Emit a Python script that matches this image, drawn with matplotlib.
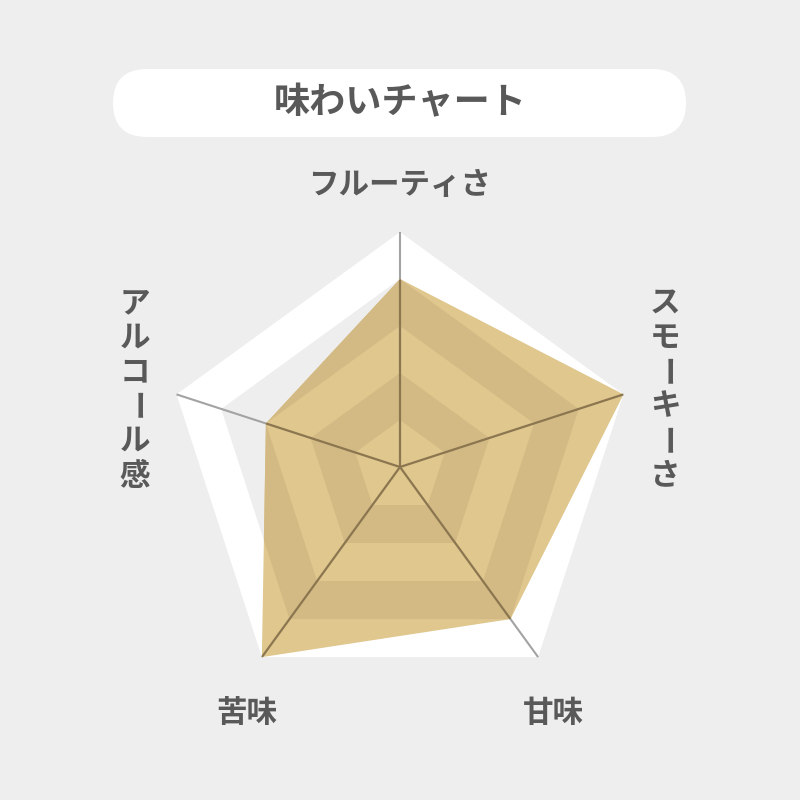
import numpy as np
import matplotlib
matplotlib.use("Agg")
import matplotlib.pyplot as plt
from matplotlib.patches import Polygon, FancyBboxPatch

plt.rcParams['font.family'] = ['Noto Sans CJK JP', 'DejaVu Sans']

title = "味わいチャート"
labels = ["フルーティさ", "スモーキーさ", "甘味", "苦味", "アルコール感"]
values = [4, 5, 4, 5, 3]
max_level = 5

BG = "#eeeeee"
TXT = "#595959"
GOLD_LIGHT = "#dfc78e"
GOLD_DARK = "#d3ba84"

# pixel layout helpers (origin top-left, 47 px per level unit)
SCALE = 47.0
CX, CY = 400, 467


def px(x, y):
    return (x - CX) / SCALE, (CY - y) / SCALE


n = len(labels)
angles = np.deg2rad(90 - 72 * np.arange(n))


def pentagon(r):
    r = np.broadcast_to(np.asarray(r, dtype=float), (n,))
    return np.column_stack([r * np.cos(angles), r * np.sin(angles)])


fig = plt.figure(figsize=(8, 8), dpi=100, facecolor=BG)
ax = fig.add_axes([0, 0, 1, 1])
ax.set_facecolor(BG)
ax.set_xlim(-CX / SCALE, (800 - CX) / SCALE)
ax.set_ylim(-(800 - CY) / SCALE, CY / SCALE)
ax.set_aspect("equal")
ax.axis("off")

# background rings
for k in range(max_level, 0, -1):
    col = "white" if k % 2 == 1 else BG
    ax.add_patch(Polygon(pentagon(k), closed=True, fc=col, ec="none", zorder=1))

# spokes
for a in angles:
    ax.plot([0, max_level * np.cos(a)], [0, max_level * np.sin(a)],
            color="#a3a3a3", lw=1.5, zorder=2, solid_capstyle="butt")

# data polygon
data_poly = Polygon(pentagon(values), closed=True, fc=GOLD_LIGHT, ec="none", zorder=3)
ax.add_patch(data_poly)

# stripes inside the data
for k in range(max_level - 1, 0, -1):
    col = GOLD_DARK if k % 2 == 0 else GOLD_LIGHT
    p = Polygon(pentagon(k), closed=True, fc=col, ec="none", zorder=4)
    ax.add_patch(p)
    p.set_clip_path(data_poly)

for a in angles:
    ln, = ax.plot([0, max_level * np.cos(a)], [0, max_level * np.sin(a)],
                  color="#8c7650", lw=1.6, zorder=5, solid_capstyle="butt")
    ln.set_clip_path(data_poly)

# title pill
x0, y0 = px(113, 137)
x1, y1 = px(686, 69)
ax.add_patch(FancyBboxPatch((x0, y0), x1 - x0, y1 - y0,
                            boxstyle="round,pad=0,rounding_size=%f" % (34 / SCALE),
                            fc="white", ec="none", zorder=6))
ax.text(*px(400, 103), title, fontsize=26, fontweight="bold", color=TXT,
        ha="center", va="center", zorder=7)

# horizontal labels
fs = 22
ax.text(*px(400, 185), labels[0], fontsize=fs, fontweight="bold", color=TXT,
        ha="center", va="center")
ax.text(*px(553, 713), labels[2], fontsize=fs, fontweight="bold", color=TXT,
        ha="center", va="center")
ax.text(*px(247, 713), labels[3], fontsize=fs, fontweight="bold", color=TXT,
        ha="center", va="center")


def vertical(text, x, y_start, step=34.5):
    for i, ch in enumerate(text):
        rot = 270 if ch == "ー" else 0
        ax.text(*px(x, y_start + i * step), ch, fontsize=fs, fontweight="bold",
                color=TXT, ha="center", va="center", rotation=rot,
                rotation_mode="anchor")


vertical(labels[1], 665, 303)
vertical(labels[4], 135, 303)

fig.savefig("out.png", dpi=100, facecolor=BG)
